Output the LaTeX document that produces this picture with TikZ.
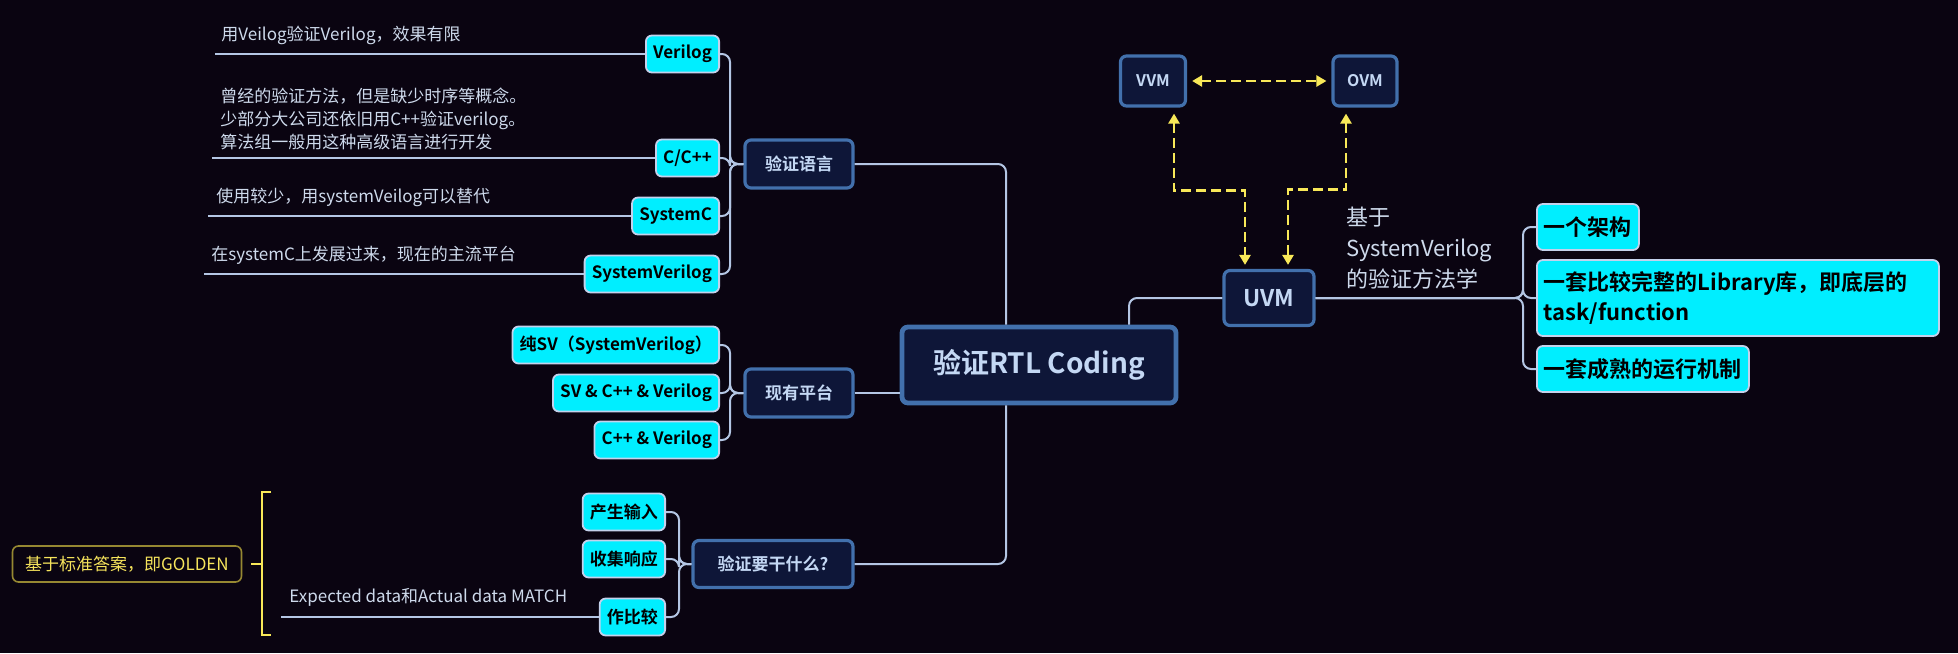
\documentclass[tikz,border=0pt]{standalone}
\usepackage{fontspec}
\setmainfont{Noto Sans CJK SC}[BoldFont={Noto Sans CJK SC Bold}]
\usepackage{tikz}
\usetikzlibrary{arrows.meta}
\definecolor{bgcol}{RGB}{10,4,17}
\definecolor{navy}{RGB}{14,22,56}
\definecolor{navyline}{RGB}{66,112,172}
\definecolor{navytext}{RGB}{196,216,244}
\definecolor{cyanbox}{RGB}{0,238,255}
\definecolor{cyanline}{RGB}{196,210,236}
\definecolor{linkcol}{RGB}{180,198,228}
\definecolor{notecol}{RGB}{206,218,236}
\definecolor{dashcol}{RGB}{248,232,88}
\definecolor{goldline}{RGB}{150,136,50}
\definecolor{goldtext}{RGB}{246,228,92}

\begin{document}
\begin{tikzpicture}[x=0.5pt,y=-0.5pt]
        \tikzset{topic/.style = {draw=navyline, line width=1.6pt, fill=navy, rounded corners=3pt, text=navytext, font=\bfseries\fontsize{8.5}{10}\selectfont, inner sep=0pt}}
        \tikzset{leaf/.style = {draw=cyanline, line width=0.9pt, fill=cyanbox, rounded corners=3pt, text=black, font=\bfseries\fontsize{8.5}{10}\selectfont, inner xsep=3.6pt, inner ysep=0pt, minimum height=18.5pt, anchor=east}}
        \tikzset{bigleaf/.style = {leaf, font=\bfseries\fontsize{11}{15}\selectfont, inner xsep=3.5pt, anchor=west}}
        \tikzset{note/.style = {text=notecol, font=\fontsize{8.5}{11.5}\selectfont, inner sep=0pt, align=left, anchor=south west}}
        \tikzset{link/.style = {draw=linkcol, line width=1pt, rounded corners=4pt}}
        \tikzset{dashlink/.style = {<->, > = {Triangle[length=5pt,width=5.5pt]}, draw=dashcol, line width=1.4pt, dash pattern=on 5pt off 2.5pt}}
        \tikzset{golden/.style = {draw=dashcol, line width=1pt}}

        \fill[bgcol] (0,0) rectangle (1958,653);
        \useasboundingbox (0,0) rectangle (1958,653);

        \node[topic, minimum width=137pt, minimum height=38pt, line width=2.4pt, font=\bfseries\fontsize{14}{16}\selectfont] (root) at (1039,365) {验证RTL Coding};
        \node[topic, minimum width=54pt, minimum height=24pt] (lang) at (799,164) {验证语言};
        \node[topic, minimum width=54pt, minimum height=24pt] (plat) at (799,393) {现有平台};
        \node[topic, minimum width=80pt, minimum height=23.5pt] (task) at (773,564) {验证要干什么?};
        \node[topic, minimum width=45pt, minimum height=27.5pt, font=\bfseries\fontsize{11.5}{13}\selectfont] (uvm) at (1269,298) {UVM};
        \node[topic, minimum width=32.5pt, minimum height=25pt, font=\bfseries\fontsize{8}{10}\selectfont] (vvm) at (1153,81) {VVM};
        \node[topic, minimum width=32pt, minimum height=25pt, font=\bfseries\fontsize{8}{10}\selectfont] (ovm) at (1365,81) {OVM};

        \node[leaf] (l1) at (720,54) {Verilog};
        \node[leaf] (l2) at (720,158) {C/C++};
        \node[leaf] (l3) at (720,216) {SystemC};
        \node[leaf] (l4) at (720,274) {SystemVerilog};

        \node[leaf] (p1) at (720,345) {纯SV（SystemVerilog）};
        \node[leaf] (p2) at (720,393) {SV \& C++ \& Verilog};
        \node[leaf] (p3) at (720,440) {C++ \& Verilog};

        \node[leaf] (t1) at (666,512) {产生输入};
        \node[leaf] (t2) at (666,559) {收集响应};
        \node[leaf] (t3) at (666,617) {作比较};

        \node[bigleaf, minimum height=23pt] (u1) at (1536,227) {一个架构};
        \node[bigleaf, minimum height=38pt, text width=194pt, align=left] (u2) at (1536,298) {一套比较完整的Library库，即底层的\\task/function};
        \node[bigleaf, minimum height=23pt] (u3) at (1536,369) {一套成熟的运行机制};

        \node[note] (d1) at (221,45) {用Veilog验证Verilog，效果有限};
        \node[note] (d2) at (220,150) {曾经的验证方法，但是缺少时序等概念。\\少部分大公司还依旧用C++验证verilog。\\算法组一般用这种高级语言进行开发};
        \node[note] (d3) at (216,207) {使用较少，用systemVeilog可以替代};
        \node[note] (d4) at (211,265) {在systemC上发展过来，现在的主流平台};
        \node[note] (d5) at (289,607) {Expected data和Actual data MATCH};
        \node[note, anchor=north west, font=\fontsize{11}{15.5}\selectfont] (d6) at (1346,207) {基于\\SystemVerilog\\的验证方法学};

        \node[draw=goldline, line width=0.8pt, fill=bgcol, rounded corners=3pt, text=goldtext, font=\fontsize{8.5}{10}\selectfont, minimum width=114.5pt, minimum height=18pt] (gold) at (127,564) {基于标准答案，即GOLDEN};

        \coordinate (lbus) at (730,164);
        \coordinate (pbus) at (730,393);
        \coordinate (tbus) at (679,564);
        \coordinate (ubus) at (1523,298);
        \coordinate (e1) at (215,54);
        \coordinate (e2) at (212,158);
        \coordinate (e3) at (208,216);
        \coordinate (e4) at (204,274);
        \coordinate (e5) at (281,617);
        \coordinate (gtop) at (271,492);
        \coordinate (gbot) at (271,635);
        \coordinate (gmid) at (262,564);

        \draw[link] (lang.east) -| ([xshift=-16.5pt]root.north);
        \draw[link] (plat.east) -- (plat.east -| root.west);
        \draw[link] (task.east) -| ([xshift=-16.5pt]root.south);
        \draw[link] ([xshift=45pt]root.north) |- (uvm.west);

        \draw[link] (lang.west) -- (lbus) |- (l1.east);
        \draw[link] (lang.west) -- (lbus) |- (l2.east);
        \draw[link] (lang.west) -- (lbus) |- (l3.east);
        \draw[link] (lang.west) -- (lbus) |- (l4.east);

        \draw[link] (plat.west) -- (pbus) |- (p1.east);
        \draw[link] (plat.west) -- (pbus) |- (p2.east);
        \draw[link] (plat.west) -- (pbus) |- (p3.east);

        \draw[link] (task.west) -- (tbus) |- (t1.east);
        \draw[link] (task.west) -- (tbus) |- (t2.east);
        \draw[link] (task.west) -- (tbus) |- (t3.east);

        \draw[link] (uvm.east) -- (ubus) |- (u1.west);
        \draw[link] (uvm.east) -- (ubus) |- (u2.west);
        \draw[link] (uvm.east) -- (ubus) |- (u3.west);

        \draw[link] (l1.west) -- (e1);
        \draw[link] (l2.west) -- (e2);
        \draw[link] (l3.west) -- (e3);
        \draw[link] (l4.west) -- (e4);
        \draw[link] (t3.west) -- (e5);

        \draw[dashlink, shorten <=2.5pt, shorten >=2.5pt] (vvm) -- (ovm);
        \draw[dashlink, shorten <=3pt, shorten >=2pt] ([xshift=10.5pt]vvm.south) -- ++(0,83) -| ([xshift=-12pt]uvm.north);
        \draw[dashlink, shorten <=3pt, shorten >=2pt] ([xshift=-9.5pt]ovm.south) -- ++(0,82) -| ([xshift=9.5pt]uvm.north);

        \draw[golden] (gtop) -- ++(-9,0) |- (gbot);
        \draw[golden] ([xshift=4.5pt]gold.east) -- (gmid);
\end{tikzpicture}
\end{document}
